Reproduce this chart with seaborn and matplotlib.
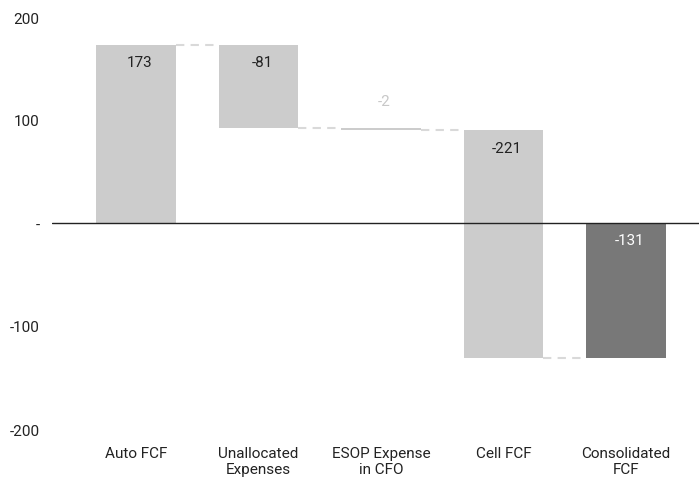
import numpy as np
import pandas as pd
import matplotlib
matplotlib.use("Agg")
import matplotlib.pyplot as plt
import seaborn as sns

# Data
categories = ["Auto FCF", "Unallocated\nExpenses", "ESOP Expense\nin CFO", "Cell FCF", "Consolidated\nFCF"]
changes = [173, -81, -2, -221]
total = -131
bar_colors = ["#cccccc", "#cccccc", "#cccccc", "#cccccc", "#787878"]
label_colors = ["#222222", "#222222", "#c8c8c8", "#222222", "#ffffff"]
yticks = [-200, -100, 0, 100, 200]

# Waterfall geometry
ends = np.cumsum(changes)
starts = np.concatenate([[0], ends[:-1]])
bottoms = list(np.minimum(starts, ends)) + [min(0, total)]
heights = list(np.abs(changes)) + [abs(total)]
values = changes + [total]
tops = [b + h for b, h in zip(bottoms, heights)]

df = pd.DataFrame({"cat": categories, "height": heights, "bottom": bottoms})

sns.set_style("white")
plt.rcParams["font.family"] = ["Roboto", "DejaVu Sans"]

fig = plt.figure(figsize=(6.99, 4.85), dpi=100)
ax = fig.add_axes([52 / 699, 55 / 485, 647 / 699, 412 / 485])

sns.barplot(data=df, x="cat", y="height", hue="cat", palette=bar_colors,
            width=0.65, legend=False, ax=ax, linewidth=0, saturation=1)

# lift each bar to its floating base
bars = sorted(ax.patches, key=lambda p: p.get_x())
for p, b in zip(bars, bottoms):
    p.set_y(b)

# connectors
w = 0.65
for i, lvl in enumerate(ends):
    ax.plot([i + w / 2, i + 1 - w / 2], [lvl, lvl],
            color="#d9d9d9", lw=1.5, ls=(0, (4, 3)), zorder=1)

# value labels
for i, v in enumerate(values):
    if i == 2:
        ax.text(i + 0.03, tops[i] + 20, f"{v:d}", ha="center", va="bottom",
                fontsize=11, color=label_colors[i])
    else:
        ax.text(i + 0.03, tops[i] - 10, f"{v:d}", ha="center", va="top",
                fontsize=11, color=label_colors[i])

ax.axhline(0, color="#222222", lw=1, zorder=3)

ax.set_xlim(-0.686, 4.596)
ax.set_ylim(-200, 200)
ax.set_yticks(yticks)
ax.set_yticklabels(["-" if t == 0 else str(t) for t in yticks])
ax.set_xlabel("")
ax.set_ylabel("")
ax.tick_params(axis="both", length=0, labelsize=11, colors="#222222")
ax.tick_params(axis="x", pad=12)
ax.tick_params(axis="y", pad=9)
for s in ax.spines.values():
    s.set_visible(False)

fig.savefig("out.png", dpi=100)
